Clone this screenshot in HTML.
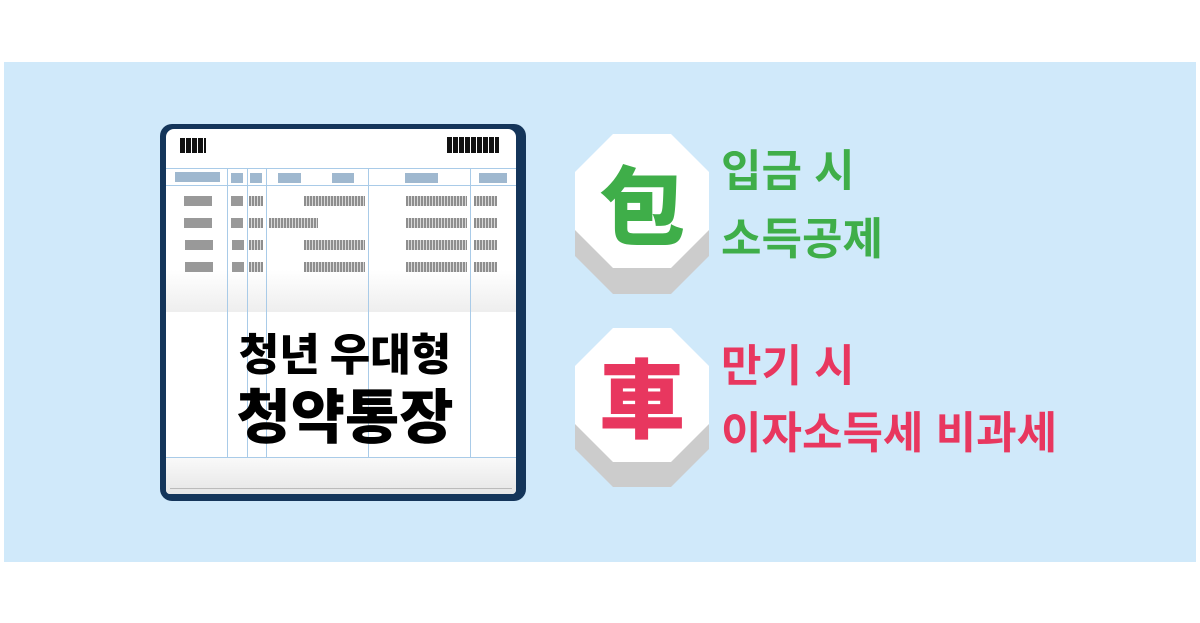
<!DOCTYPE html>
<html><head><meta charset="utf-8"><style>
body{margin:0;width:1200px;height:623px;background:#fff;position:relative;overflow:hidden;font-family:"Liberation Sans","Noto Sans CJK KR",sans-serif}
.a{position:absolute}
.bg{left:4px;top:62px;width:1192px;height:500px;background:#d0e9fa}
.g{background:#999}
.h{background:#9fb8cf}
.bar{background:repeating-linear-gradient(90deg,#8e8e8e 0 2px,#d8d8d8 2px 3px);height:10px}
.vl{width:1px;background:#a9cbe8;top:168px;height:289px}
.t{font-weight:bold;white-space:nowrap}
.k{font-family:"Noto Sans CJK KR",sans-serif;font-weight:900}
</style></head><body>
<div class="a bg"></div>
<div class="a" style="left:160px;top:124px;width:366px;height:377px;background:#14355a;border-radius:12px"></div>
<div class="a" style="left:166px;top:129px;width:350px;height:365px;background:#fff;border-radius:8px 8px 4px 4px"></div>
<div class="a" style="left:166px;top:270px;width:350px;height:42px;background:linear-gradient(#fff,#eee)"></div>
<div class="a" style="left:166px;top:457px;width:350px;height:37px;background:linear-gradient(#fafafa,#e6e6e6);border-radius:0 0 4px 4px"></div>
<div class="a" style="left:170px;top:488px;width:342px;height:1px;background:#bbb"></div>
<div class="a" style="left:180px;top:138px;width:26px;height:15px;background:repeating-linear-gradient(90deg,#111 0 5px,#fff 5px 6px)"></div>
<div class="a" style="left:447px;top:137px;width:52px;height:16px;background:repeating-linear-gradient(90deg,#111 0 5px,#fff 5px 6px)"></div>
<div class="a" style="left:166px;top:168px;width:350px;height:1px;background:#a9cbe8"></div>
<div class="a" style="left:166px;top:185px;width:350px;height:1px;background:#a9cbe8"></div>
<div class="a" style="left:166px;top:457px;width:350px;height:1px;background:#a9cbe8"></div>
<div class="a vl" style="left:227px"></div><div class="a vl" style="left:247px"></div><div class="a vl" style="left:266px"></div><div class="a vl" style="left:368px"></div><div class="a vl" style="left:470px"></div>
<div class="a h" style="left:175px;top:172px;width:45px;height:10px"></div>
<div class="a h" style="left:231px;top:173px;width:12px;height:10px"></div>
<div class="a h" style="left:250px;top:173px;width:12px;height:10px"></div>
<div class="a h" style="left:278px;top:173px;width:23px;height:10px"></div>
<div class="a h" style="left:332px;top:173px;width:22px;height:10px"></div>
<div class="a h" style="left:405px;top:173px;width:33px;height:10px"></div>
<div class="a h" style="left:479px;top:173px;width:28px;height:10px"></div>
<div class="a g" style="left:184px;top:196px;width:28px;height:10px"></div>
<div class="a g" style="left:184px;top:218px;width:28px;height:10px"></div>
<div class="a g" style="left:185px;top:240px;width:28px;height:10px"></div>
<div class="a g" style="left:185px;top:262px;width:28px;height:10px"></div>
<div class="a g" style="left:231px;top:196px;width:12px;height:10px"></div>
<div class="a g" style="left:231px;top:218px;width:12px;height:10px"></div>
<div class="a g" style="left:232px;top:240px;width:12px;height:10px"></div>
<div class="a g" style="left:232px;top:262px;width:12px;height:10px"></div>
<div class="a bar" style="left:249px;top:196px;width:14px"></div>
<div class="a bar" style="left:249px;top:218px;width:14px"></div>
<div class="a bar" style="left:249px;top:240px;width:14px"></div>
<div class="a bar" style="left:249px;top:262px;width:14px"></div>
<div class="a bar" style="left:304px;top:196px;width:61px"></div>
<div class="a bar" style="left:269px;top:218px;width:49px"></div>
<div class="a bar" style="left:304px;top:240px;width:61px"></div>
<div class="a bar" style="left:304px;top:262px;width:61px"></div>
<div class="a bar" style="left:406px;top:196px;width:61px"></div>
<div class="a bar" style="left:406px;top:218px;width:61px"></div>
<div class="a bar" style="left:406px;top:240px;width:61px"></div>
<div class="a bar" style="left:406px;top:262px;width:61px"></div>
<div class="a bar" style="left:474px;top:196px;width:23px"></div>
<div class="a bar" style="left:474px;top:218px;width:23px"></div>
<div class="a bar" style="left:474px;top:240px;width:23px"></div>
<div class="a bar" style="left:474px;top:262px;width:23px"></div>
<div class="a t k" style="left:140px;width:410px;text-align:center;top:324px;font-size:44px;line-height:54px;color:#000">청년 우대형</div>
<div class="a t k" style="left:140px;width:410px;text-align:center;top:378px;font-size:59px;line-height:70px;color:#000">청약통장</div>
<svg class="a" style="left:0;top:0" width="1200" height="623">
<polygon points="613,160 671,160 709,198 709,256 671,294 613,294 575,256 575,198" fill="#cccccc"/>
<polygon points="613,134 671,134 709,172 709,230 671,268 613,268 575,230 575,172" fill="#fff"/>
<polygon points="613,353 671,353 709,391 709,449 671,487 613,487 575,449 575,391" fill="#cccccc"/>
<polygon points="613,328 671,328 709,366 709,424 671,462 613,462 575,424 575,366" fill="#fff"/>
</svg>
<div class="a t k" style="left:575px;width:134px;text-align:center;top:158px;font-size:86px;line-height:86px;color:#3fae49">包</div>
<div class="a t k" style="left:575px;width:134px;text-align:center;top:351px;font-size:86px;line-height:86px;color:#e8375f">車</div>
<div class="a t" style="left:721px;top:147px;font-size:44px;line-height:50px;color:#3fae49">입금 시</div>
<div class="a t" style="left:721px;top:215px;font-size:44px;line-height:50px;color:#3fae49">소득공제</div>
<div class="a t" style="left:721px;top:342px;font-size:44px;line-height:50px;color:#e8375f">만기 시</div>
<div class="a t" style="left:721px;top:409px;font-size:44px;line-height:50px;color:#e8375f">이자소득세 비과세</div>
</body></html>
